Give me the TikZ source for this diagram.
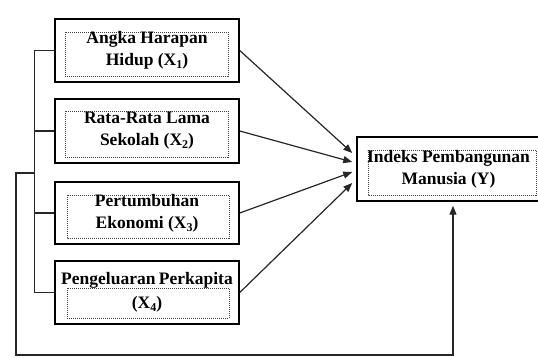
\documentclass[tikz,border=0pt]{standalone}
\usepackage{fontspec}
\setmainfont{Liberation Serif}
\usetikzlibrary{arrows.meta,calc}
\newcommand\mysub[1]{\raisebox{-0.35ex}{\fontsize{12}{12}\selectfont #1}}
\tikzset{
  varbox/.style={draw=black, line width=1.5pt, minimum width=184pt, minimum height=63pt, inner sep=0pt,
    align=center, font=\bfseries\fontsize{17.5}{22}\selectfont},
  dotbox/.style={draw=black!75, line width=0.8pt, dash pattern=on 1pt off 1pt},
  conn/.style={line width=1.2pt, draw=black!85},
  arr/.style={conn, -{Triangle[length=9pt,width=7pt]}}
}
\begin{document}
\begin{tikzpicture}[x=1pt,y=-1pt]
\useasboundingbox (0,0) rectangle (538,358);
% dotted inner frames
\draw[dotbox] (65,32) rectangle (228,76);
\draw[dotbox] (65,111) rectangle (228,157);
\draw[dotbox] (67,195) rectangle (229,238);
\draw[dotbox] (67,288) rectangle (229,318);
\draw[dotbox] (368,150) rectangle (536,195);
% boxes
\node[varbox] (x1) at (147,50.5) {Angka Harapan\\Hidup (X\mysub{1})};
\node[varbox, minimum height=64pt] (x2) at (147,131) {Rata-Rata Lama\\Sekolah (X\mysub{2})};
\node[varbox, minimum height=62pt] (x3) at (147,213) {Pertumbuhan\\Ekonomi (X\mysub{3})};
\node[varbox] (x4) at (147,292.5) {\raisebox{2pt}{Pengeluaran\hspace{-1pt} Perkapita}\\(X\mysub{4})};
\node[varbox, minimum width=183pt, minimum height=64pt] (y) at (448.5,169) {Indeks Pembangunan\\Manusia (Y)};
% target points on Y
\coordinate (t1) at ($(y.west)+(-4,-16)$);
\coordinate (t2) at ($(y.west)+(-4,-7)$);
\coordinate (t3) at ($(y.west)+(-4,3)$);
\coordinate (t4) at ($(y.west)+(-4,14)$);
\coordinate (br) at (35,173);
\coordinate (yin) at ($(y.south)+(4.5,4)$);
% arrows
\draw[arr] (x1.east) -- (t1);
\draw[arr] (x2.east) -- (t2);
\draw[arr] (x3.east) -- (t3);
\draw[arr] (x4.east) -- (t4);
% bracket
\draw[conn] (x1.west) -- ++(-20,0) |- (x4.west);
\draw[conn] (x2.west) -- ++(-20,0);
\draw[conn] (x3.west) -- ++(-20,0);
% loop
\draw[arr] (br) -- (16,173) -- (16,355) -| (yin);
\end{tikzpicture}
\end{document}
